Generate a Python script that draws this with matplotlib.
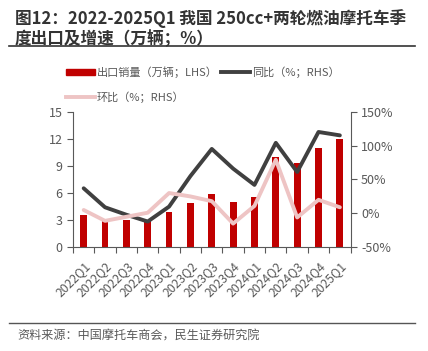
import numpy as np
import matplotlib
matplotlib.use('Agg')
import matplotlib.pyplot as plt
from matplotlib.lines import Line2D
from matplotlib.patches import Patch

plt.rcParams['font.family'] = ['Noto Sans CJK SC', 'DejaVu Sans']

quarters = ['2022Q1', '2022Q2', '2022Q3', '2022Q4', '2023Q1', '2023Q2', '2023Q3',
            '2023Q4', '2024Q1', '2024Q2', '2024Q3', '2024Q4', '2025Q1']
export_vol = [3.57, 3.1, 3.0, 2.9, 3.9, 4.9, 5.85, 5.0, 5.56, 10.0, 9.3, 11.0, 11.95]
yoy = [37, 9, -2, -12, 10, 55, 95, 66, 42, 104, 61, 120, 115]
qoq = [5, -11, -5, 1, 30, 25, 18, -15, 11, 79, -6, 20, 9]

RED = '#C00000'
DARK = '#404040'
PINK = '#EEC4C4'
GRAY = '#595959'

fig = plt.figure(figsize=(4.28, 3.51), dpi=100)
ax = fig.add_axes([0.1706, 0.2954, 0.6484, 0.3866])
ax2 = ax.twinx()

x = np.arange(len(quarters))
ax.bar(x, export_vol, 0.32, color=RED, zorder=2)
ax2.plot(x, yoy, color=DARK, lw=2.8, solid_capstyle='round', zorder=3)
ax2.plot(x, qoq, color=PINK, lw=2.8, solid_capstyle='round', zorder=3)

ax.set_ylim(0, 15)
ax.set_yticks([0, 3, 6, 9, 12, 15])
ax2.set_ylim(-50, 150)
ax2.set_yticks([-50, 0, 50, 100, 150])
ax2.set_yticklabels(['-50%', '0%', '50%', '100%', '150%'])
ax.set_xlim(-0.5, len(quarters) - 0.5)
ax.set_xticks(np.arange(-0.5, len(quarters), 1.0), minor=False)
ax.set_xticklabels([])
ax.set_xticks(x, minor=True)
ax.set_xticklabels(quarters, minor=True, rotation=45, ha='right', rotation_mode='anchor')
ax.tick_params(axis='x', which='minor', length=0, labelsize=8.8, colors=GRAY, pad=9)
ax.tick_params(axis='x', which='major', length=4, color=GRAY, direction='out')

for a in (ax, ax2):
    for s in a.spines.values():
        s.set_visible(False)
    a.tick_params(axis='y', labelsize=9, colors=GRAY, length=4, color=GRAY)
ax.spines['left'].set_visible(True)
ax.spines['left'].set_color(GRAY)
ax.spines['bottom'].set_visible(True)
ax.spines['bottom'].set_color(GRAY)
ax2.spines['right'].set_visible(True)
ax2.spines['right'].set_color(GRAY)

# legend
h1 = Patch(color=RED)
h2 = Line2D([], [], color=DARK, lw=2.8)
h3 = Line2D([], [], color=PINK, lw=2.8)
leg1 = fig.legend([h1, h2], ['出口销量（万辆；LHS）', '同比（%；RHS）'], ncol=2,
                  loc='center left', bbox_to_anchor=(0.13, 0.795), frameon=False,
                  fontsize=8, handlelength=2.6, handleheight=0.5, handletextpad=0.2,
                  columnspacing=0.3, labelcolor=GRAY)
leg2 = fig.legend([h3], ['环比（%；RHS）'], loc='center left',
                  bbox_to_anchor=(0.13, 0.723), frameon=False, fontsize=8,
                  handlelength=2.6, handletextpad=0.2, labelcolor=GRAY)

# title, rules, source
fig.text(0.035, 0.975, '图12：2022-2025Q1 我国 250cc+两轮燃油摩托车季\n度出口及增速（万辆；%）',
         fontsize=12, fontweight='bold', color='#333333', va='top', ha='left',
         linespacing=1.15)
fig.add_artist(Line2D([0.02, 0.97], [0.868, 0.868], color='#333333', lw=1.2))
fig.add_artist(Line2D([0.02, 0.97], [0.08, 0.08], color='#555555', lw=1.0))
fig.text(0.04, 0.042, '资料来源：中国摩托车商会，民生证券研究院', fontsize=8.7,
         color=GRAY, va='center', ha='left')

fig.savefig('out.png', dpi=100)
